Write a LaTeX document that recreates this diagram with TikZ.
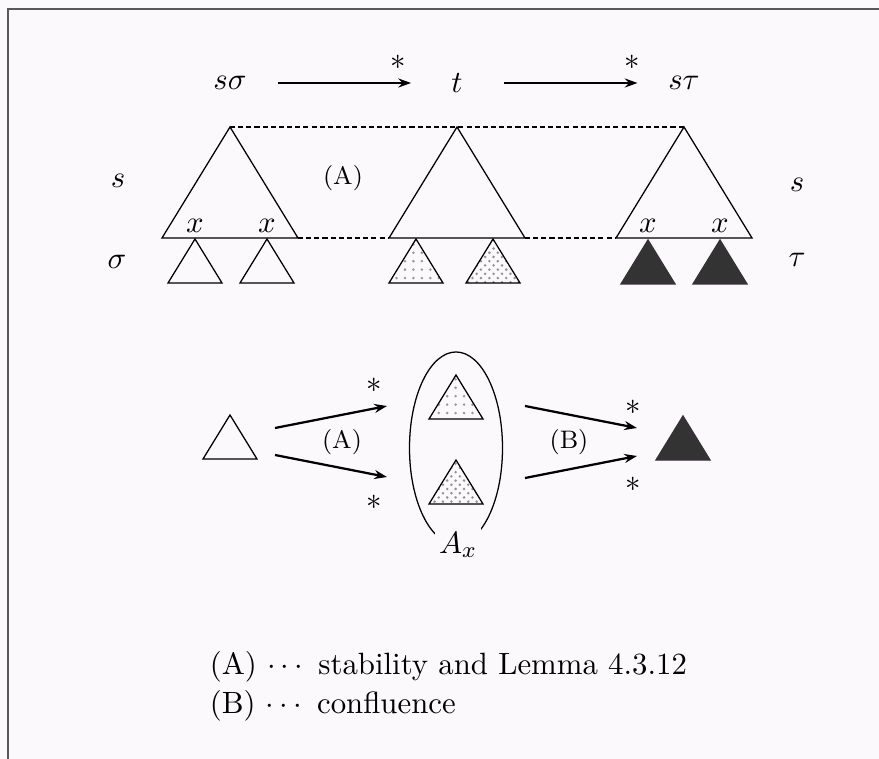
\documentclass[tikz,border=0pt,11pt]{standalone}
\usepackage{amsmath, amssymb}
\usepackage{xcolor}
\usepackage{tikz}
\usetikzlibrary{arrows.meta, positioning, calc, shapes, patterns}
\definecolor{paper}{RGB}{251,249,251}

\begin{document}
\begin{tikzpicture}[x=0.0125cm, y=-0.0125cm, >={Stealth[length=4.5pt, width=3.2pt]},
            bigtri/.pic={\draw[line width=0.45pt] (0,0) -- (-68,111) -- (68,111) -- cycle;},
            subtri/.pic={\draw[line width=0.45pt, pic actions] (0,0) -- (-27,44) -- (27,44) -- cycle;},
            link/.style={line width=0.4pt, dash pattern=on 1.8pt off 1.1pt},
            redex/.style={->, line width=0.8pt},
            lightdots/.style={preaction={fill=gray!8}, pattern=dots, pattern color=gray!80},
            densedots/.style={preaction={fill=gray!18}, pattern=crosshatch dots, pattern color=gray!85},
            blacktri/.style={fill=black!80, draw=black!80},
            tag/.style={font=\footnotesize}]

            \path[fill=paper] (0,0) rectangle (879,759);
            \useasboundingbox (0,0) rectangle (879,759);
            \draw[line width=0.8pt, black!65] (8,759) -- (8,9) -- (879,9);

            % top row
            \node (so) at (230,83) {$s\sigma$};
            \node (t) at (457,83) {$t$};
            \node (st) at (684,83) {$s\tau$};
            \draw[redex, shorten <=0.26cm, shorten >=0.37cm] (so) -- (t);
            \draw[redex, shorten <=0.38cm, shorten >=0.25cm] (t) -- (st);
            \node (star1) at (398,62) {$*$};
            \node (star2) at (632,62) {$*$};

            % the three terms
            \coordinate (topL) at (230,127);
            \coordinate (topM) at (457,127);
            \coordinate (topR) at (684,127);
            \coordinate (baseL) at (298,238);
            \coordinate (baseM1) at (389,238);
            \coordinate (baseM2) at (525,238);
            \coordinate (baseR) at (616,238);
            \draw[link] (topL) -- (topM) -- (topR);
            \draw[link] (baseL) -- (baseM1); \draw[link] (baseM2) -- (baseR);
            \pic at (topL) {bigtri};
            \pic at (topM) {bigtri};
            \pic at (topR) {bigtri};

            \node (xl1) at (195,226) {$x$};
            \node (xl2) at (267,226) {$x$};
            \node (xr1) at (648,226) {$x$};
            \node (xr2) at (720,226) {$x$};
            \pic at (195,239) {subtri};
            \pic at (267,239) {subtri};
            \pic[lightdots] at (416,239) {subtri};
            \pic[densedots] at (493,239) {subtri};
            \pic[blacktri] at (648,240) {subtri};
            \pic[blacktri] at (720,240) {subtri};

            \node (sL) at (118,181) {$s$};
            \node (sigma) at (117,262) {$\sigma$};
            \node (sR) at (797,185) {$s$};
            \node (tau) at (797,260) {$\tau$};
            \node[tag] (lblA) at (343,178) {(A)};

            % the set A_x
            \node[draw, ellipse, minimum width=1.1625cm, minimum height=2.4cm, inner sep=0pt, line width=0.45pt] (Aset) at (456,448) {};
            \node[fill=paper, inner sep=1.5pt] (Ax) at (458,545) {$A_x$};
            \pic at (230,415) {subtri};
            \pic[lightdots] at (456,375) {subtri};
            \pic[densedots] at (456,460) {subtri};
            \pic[blacktri] at (683,416) {subtri};

            \coordinate (wA) at (275,428); \coordinate (uA) at (387,406);
            \coordinate (wB) at (275,455); \coordinate (dB) at (387,477);
            \coordinate (uC) at (525,406); \coordinate (bC) at (637,428);
            \coordinate (dC) at (525,478); \coordinate (bD) at (637,456);
            \draw[redex] (wA) -- (uA); \draw[redex] (wB) -- (dB);
            \draw[redex] (uC) -- (bC); \draw[redex] (dC) -- (bD);

            \node (star3) at (374,385) {$*$};
            \node (star4) at (374,502) {$*$};
            \node (star5) at (633,407) {$*$};
            \node (star6) at (633,484) {$*$};
            \node[tag] (midA) at (342,442) {(A)};
            \node[tag] (midB) at (569,442) {(B)};

            % legend
            \node[anchor=west] (legA) at (199,667) {(A) $\cdots$ stability and Lemma 4.3.12};
            \node[anchor=west] (legB) at (199,706) {(B) $\cdots$ confluence};
        \end{tikzpicture}
\end{document}
